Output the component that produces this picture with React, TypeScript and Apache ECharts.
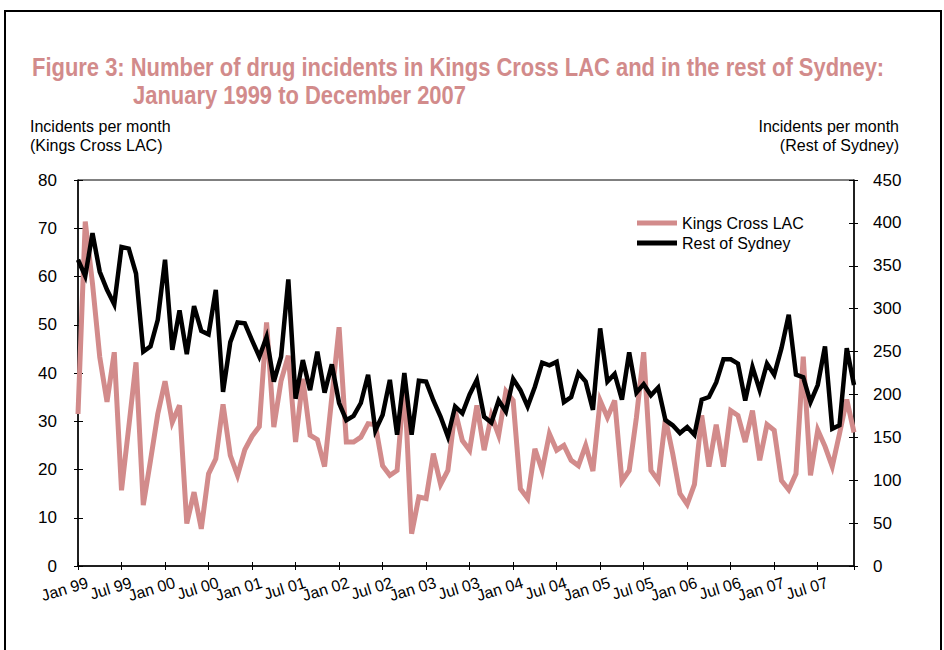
import React, { useEffect, useRef } from "react";
import * as echarts from "echarts";

const monthNames = ["Jan", "Feb", "Mar", "Apr", "May", "Jun", "Jul", "Aug", "Sep", "Oct", "Nov", "Dec"];
const yearNames = ["99", "00", "01", "02", "03", "04", "05", "06", "07"];
const categories: string[] = yearNames.flatMap((y) => monthNames.map((m) => `${m} ${y}`));

const kingsCross = [
  31.5, 71.4, 58.5, 43.3, 34, 44.3, 15.7, 28.8, 42.2, 12.6, 21.9, 31.5,
  38.3, 29.8, 33.3, 8.8, 15.3, 7.7, 19.1, 22.2, 33.5, 22.9, 18.8, 24.1,
  26.9, 28.9, 50.5, 28.8, 38.4, 43.6, 25.7, 38.8, 27.1, 26.2, 20.6, 35,
  49.5, 25.7, 25.7, 26.7, 29.5, 29.3, 20.8, 18.8, 19.8, 38.4, 6.7, 14.3,
  14, 23.3, 16.9, 19.8, 32.2, 26, 24, 33.3, 24, 31.2, 27.1, 36.2,
  34.3, 16, 14, 24.3, 19.8, 27.4, 24, 25, 21.9, 20.8, 25, 19.7,
  34.3, 30.8, 34.3, 17.6, 19.8, 30.8, 44.3, 19.8, 17.7, 30.5, 23.3, 15,
  12.8, 16.9, 31.2, 20.6, 29.3, 20.6, 32.2, 31.2, 25.7, 32.2, 21.9, 29.3,
  28.1, 17.7, 15.8, 19.1, 43.4, 18.8, 28.2, 24.8, 20.6, 27.4, 34.5, 27.7,
];

const restOfSydney = [
  357, 338, 388, 343, 322, 305, 372, 370, 341, 250, 256, 287,
  357, 252, 298, 247, 303, 274, 270, 322, 203, 261, 284, 283,
  263, 244, 267, 215, 244, 334, 195, 240, 205, 250, 202, 235,
  190, 170, 175, 190, 223, 158, 176, 217, 153, 225, 153, 216,
  215, 193, 174, 151, 186, 178, 200, 217, 174, 167, 193, 180,
  218, 205, 186, 209, 237, 234, 238, 191, 197, 225, 215, 182,
  277, 215, 224, 194, 249, 202, 212, 199, 208, 170, 164, 155,
  162, 153, 194, 197, 214, 241, 241, 236, 193, 232, 205, 236,
  223, 254, 293, 223, 220, 191, 211, 256, 160, 164, 254, 211,
];

const titleLine1 = "Figure 3: Number of drug incidents in Kings Cross LAC and in the rest of Sydney:";
const titleLine2 = "January 1999 to December 2007";
const leftAxisName = ["Incidents per month", "(Kings Cross LAC)"];
const rightAxisName = ["Incidents per month", "(Rest of Sydney)"];

const FONT = '"Liberation Sans", Arial, sans-serif';
const PINK = "#D28B8B";

export default function App() {
  const ref = useRef<HTMLDivElement>(null);
  useEffect(() => {
    if (!ref.current) return;
    const chart = echarts.init(ref.current, null, { renderer: "svg" });
    const baseY = {
      type: "value" as const,
      splitLine: { show: false },
    };
    chart.setOption({
      animation: false,
      backgroundColor: "#fff",
      textStyle: { fontFamily: FONT },
      grid: {
        left: 78,
        right: 90,
        top: 180,
        bottom: 84,
        show: true,
        borderColor: "#000",
        borderWidth: 1,
      },
      legend: {
        left: 632,
        top: 210,
        orient: "vertical",
        itemWidth: 40,
        itemHeight: 5,
        itemGap: 4,
        icon: "rect",
        textStyle: { fontFamily: FONT, fontSize: 16, color: "#000", padding: [0, 0, 0, 0] },
        data: ["Kings Cross LAC", "Rest of Sydney"],
      },
      xAxis: [
        {
          type: "category",
          data: categories,
          boundaryGap: false,
          axisLine: { lineStyle: { color: "#000", width: 1.5 } },
          axisTick: { interval: 5, length: 4, lineStyle: { color: "#000" } },
          axisLabel: {
            interval: 0,
            formatter: (value: string, index: number) => (index % 6 === 0 ? value : ""),
            rotate: 17,
            margin: 19,
            color: "#000",
            fontFamily: FONT,
            fontSize: 16,
            padding: [0, -10, 0, 0],
            showMinLabel: true,
            showMaxLabel: false,
          },
        },
        {
          type: "category",
          data: categories,
          boundaryGap: false,
          position: "bottom",
          axisLine: { show: false },
          axisTick: { inside: true, interval: 5, length: 4, lineStyle: { color: "#000" } },
          axisLabel: { show: false },
        },
      ],
      yAxis: [
        {
          ...baseY,
          position: "left",
          min: 0,
          max: 80,
          interval: 10,
          axisLine: { show: true, lineStyle: { color: "#000", width: 1.5 } },
          axisTick: { show: true, length: 4, lineStyle: { color: "#000" } },
          axisLabel: { color: "#000", fontFamily: FONT, fontSize: 17, margin: 21 },
        },
        {
          ...baseY,
          position: "right",
          min: 0,
          max: 450,
          interval: 50,
          axisLine: { show: true, lineStyle: { color: "#000", width: 1.5 } },
          axisTick: { show: true, length: 4, lineStyle: { color: "#000" } },
          axisLabel: { color: "#000", fontFamily: FONT, fontSize: 17, margin: 19 },
        },
        {
          ...baseY,
          position: "left",
          min: 0,
          max: 80,
          interval: 10,
          axisLine: { show: false },
          axisTick: { show: true, inside: true, length: 5, lineStyle: { color: "#000" } },
          axisLabel: { show: false },
        },
        {
          ...baseY,
          position: "right",
          min: 0,
          max: 450,
          interval: 50,
          axisLine: { show: false },
          axisTick: { show: true, inside: true, length: 5, lineStyle: { color: "#000" } },
          axisLabel: { show: false },
        },
      ],
      series: [
        {
          name: "Kings Cross LAC",
          type: "line",
          data: kingsCross,
          xAxisIndex: 0,
          yAxisIndex: 0,
          showSymbol: false,
          symbol: "none",
          itemStyle: { color: PINK },
          lineStyle: { color: PINK, width: 5, join: "miter" },
          z: 3,
        },
        {
          name: "Rest of Sydney",
          type: "line",
          data: restOfSydney,
          xAxisIndex: 0,
          yAxisIndex: 1,
          showSymbol: false,
          symbol: "none",
          itemStyle: { color: "#000" },
          lineStyle: { color: "#000", width: 4.5, join: "miter" },
          z: 4,
        },
      ],
      graphic: [
        {
          type: "rect",
          shape: { x: 5, y: 11, width: 936, height: 700 },
          style: { fill: "none", stroke: "#000", lineWidth: 2 },
          silent: true,
        },
        {
          type: "text",
          x: 32,
          y: 55,
          scaleX: 0.878,
          style: { text: titleLine1, fill: PINK, fontFamily: FONT, fontWeight: "bold", fontSize: 25 },
        },
        {
          type: "text",
          x: 133,
          y: 83,
          scaleX: 0.878,
          style: { text: titleLine2, fill: PINK, fontFamily: FONT, fontWeight: "bold", fontSize: 25 },
        },
        {
          type: "text",
          x: 30,
          y: 117,
          style: { text: leftAxisName.join("\n"), fill: "#000", fontFamily: FONT, fontSize: 16, lineHeight: 19 },
        },
        {
          type: "text",
          x: 899,
          y: 117,
          style: {
            text: rightAxisName.join("\n"),
            fill: "#000",
            fontFamily: FONT,
            fontSize: 16,
            lineHeight: 19,
            align: "right",
          },
        },
      ],
    });
    return () => chart.dispose();
  }, []);
  return (
    <div
      ref={ref}
      style={{ position: "absolute", left: 0, top: 0, width: 944, height: 650 }}
    />
  );
}
